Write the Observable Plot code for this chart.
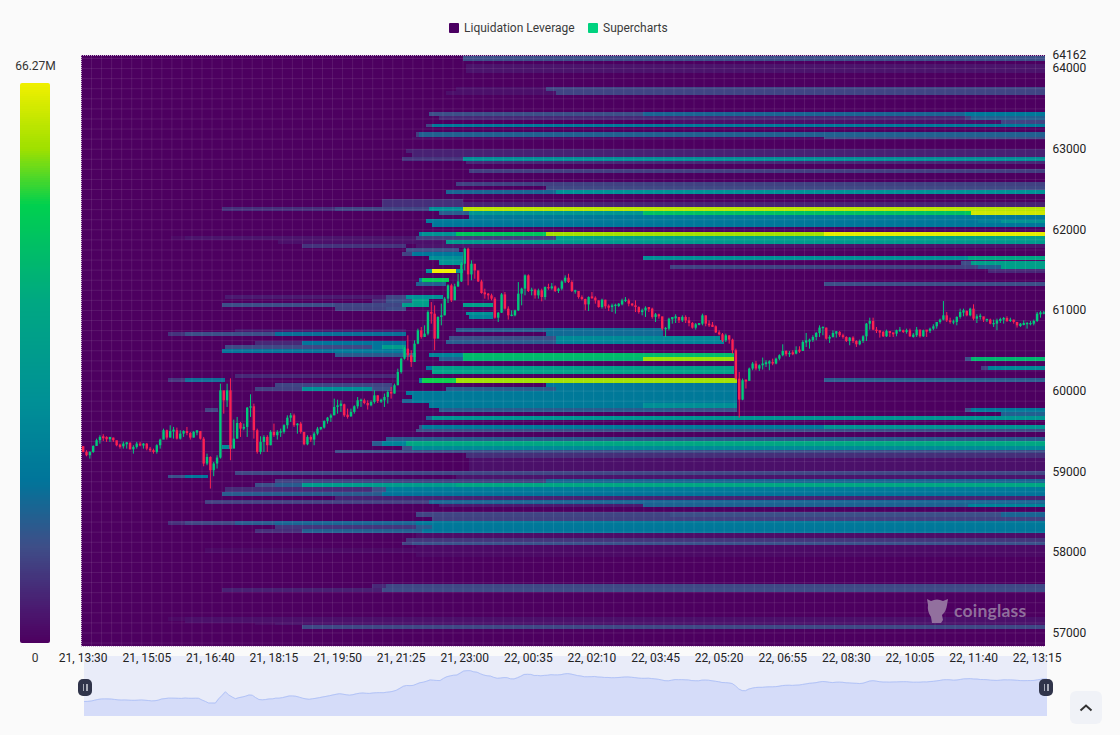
<!DOCTYPE html>
<html>
<head>
<meta charset="utf-8">
<script src="https://cdn.jsdelivr.net/npm/d3@7"></script>
<script src="https://cdn.jsdelivr.net/npm/@observablehq/plot@0.6"></script>
<style>
html,body{margin:0;padding:0;background:#fafafa;width:1120px;height:735px;overflow:hidden;font-family:Roboto,sans-serif;color:#333}
.abs{position:absolute}
svg{display:block}
.lg{position:absolute;top:21px;font-size:12px;line-height:14px;color:#3a3a3a;white-space:nowrap}
.sw{position:absolute;top:23px;width:10px;height:10px;border-radius:1px}
.handle{position:absolute;width:14px;height:17px;top:679px;background:#30344a;border-radius:5px}
.handle i{position:absolute;top:5px;width:1.5px;height:7px;background:#a9acb8}
</style>
</head>
<body>
<div class="sw" style="left:449px;background:#4b0062"></div>
<div class="lg" style="left:464px">Liquidation Leverage</div>
<div class="sw" style="left:588px;background:#00d27f"></div>
<div class="lg" style="left:603px">Supercharts</div>
<div class="abs" style="left:0;width:71px;top:59px;text-align:center;font-size:12px;color:#333">66.27M</div>
<div class="abs" style="left:0;width:70px;top:651px;text-align:center;font-size:12px;color:#333">0</div>
<div id="legendBar" class="abs" style="left:20px;top:83px;border-radius:2px;overflow:hidden"></div>
<div id="overview" class="abs" style="left:84px;top:656px"></div>
<div id="main" class="abs" style="left:0;top:0"></div>
<div class="handle" style="left:78px"><i style="left:4.5px"></i><i style="left:8px"></i></div>
<div class="handle" style="left:1039px"><i style="left:4.5px"></i><i style="left:8px"></i></div>
<div class="abs" style="left:1070px;top:691px;width:32px;height:33px;background:#f0f2f7;border-radius:6px">
<svg width="32" height="33"><path d="M10.5 19.5 L16 14.5 L21.5 19.5" fill="none" stroke="#333" stroke-width="2"/></svg></div>
<svg class="abs" style="left:925px;top:596px" width="25" height="28"><path d="M2 3 L6 5 Q12 2 18 5 L23 3 L22 9 Q21 16 17 19 L18 24 L16 27 L7 27 L6 21 Q2 15 3 9 Z" fill="#92709e"/></svg>
<div class="abs" style="left:954px;top:600px;font:700 17.5px Lato,sans-serif;color:#8f6f9c;letter-spacing:.2px">coinglass</div>

<script>
// ---- axis ticks -------------------------------------------------------
const xTickLabels = ["21, 13:30","21, 15:05","21, 16:40","21, 18:15","21, 19:50","21, 21:25","21, 23:00","22, 00:35","22, 02:10","22, 03:45","22, 05:20","22, 06:55","22, 08:30","22, 10:05","22, 11:40","22, 13:15"];
const xTickCandles = [0,19,38,57,76,95,114,133,152,171,190,209,228,247,266,285];
const yTicks = [64162,64000,63000,62000,61000,60000,59000,58000,57000];
const maxLiquidation = 66.27;

// ---- 5-minute candles (USD) -------------------------------------------
const firstOpen = 59310;
const candleClose = [
59240,59198,59239,59313,59384,59425,59417,59404,59417,59384,59322,59309,59342,59350,59272,59301,59342,59318,59342,59280,
59260,59239,59322,59392,59508,59417,59499,59508,59404,59466,59499,59474,59417,59487,59499,59404,59095,59177,59012,59095,
59169,60003,59879,60003,59280,59404,59598,59528,59549,59788,59805,59508,59239,59363,59425,59322,59487,59446,59487,59487,
59570,59664,59693,59570,59590,59487,59334,59425,59392,59466,59528,59541,59623,59664,59693,59797,59817,59830,59693,59681,
59735,59805,59879,59879,59846,59817,59859,59941,59871,59879,59921,59983,59963,60066,60231,60396,60520,60438,60355,60582,
60747,60665,60706,60974,60954,60644,60913,60933,61140,61305,61119,61292,61354,61573,61759,61441,61573,61491,61354,61210,
61202,61181,61140,60904,60966,61193,61016,60933,60933,60995,61202,61264,61429,61235,61251,61181,61243,61160,61284,61268,
61292,61235,61264,61354,61400,61346,61235,61235,61160,61136,61069,61160,61152,61119,61036,61127,61045,61036,61057,61057,
61069,61119,61119,61078,61057,61036,60974,60995,61028,61016,60913,60946,60921,60768,60768,60892,60904,60913,60871,60913,
60871,60838,60780,60822,60830,60933,60830,60809,60797,60722,60698,60623,60685,60632,60500,60148,59888,60128,60120,60273,
60335,60273,60314,60335,60343,60355,60335,60396,60438,60491,60450,60467,60458,60500,60491,60603,60615,60624,60665,60714,
60781,60781,60644,60665,60714,60727,60686,60665,60615,60657,60615,60574,60615,60673,60830,60863,60756,60739,60727,60673,
60739,60714,60706,60748,60748,60727,60748,60673,60686,60756,60673,60748,60739,60768,60797,60851,60880,60933,60871,60851,
60851,60913,60975,60987,60933,61016,60892,60921,60921,60880,60880,60830,60830,60871,60880,60900,60863,60880,60851,60809,
60822,60830,60830,60830,60863,60954,60962,60962];
const candleHigh = [
59310,59260,59247,59322,59404,59446,59458,59433,59425,59417,59375,59342,59367,59363,59363,59322,59363,59363,59350,59350,
59301,59280,59334,59404,59528,59516,59570,59549,59541,59508,59508,59549,59487,59499,59508,59487,59425,59218,59185,59115,
59198,60086,59962,60086,60152,59640,59673,59611,59590,59797,59954,59838,59528,59433,59446,59446,59508,59590,59508,59528,
59582,59693,59722,59714,59598,59611,59487,59446,59446,59487,59549,59549,59631,59673,59714,59900,59887,59879,59838,59776,
59776,59817,59920,59900,59900,59879,59879,60003,59941,59900,59963,60004,60045,60086,60272,60409,60541,60685,60500,60623,
60768,60789,60809,60995,61098,61057,60921,61078,61160,61317,61325,61325,61449,61594,61772,61772,61615,61553,61482,61375,
61264,61210,61202,61160,60974,61210,61222,61045,60995,61003,61346,61276,61441,61441,61276,61264,61264,61264,61292,61325,
61334,61305,61276,61367,61429,61449,61367,61251,61235,61181,61140,61169,61222,61169,61119,61140,61127,61069,61078,61078,
61086,61140,61160,61140,61086,61119,61045,61016,61045,61036,61028,60962,60954,60913,60789,60904,60913,60946,60913,60933,
60933,60913,60851,60838,60838,60954,60933,60871,60851,60809,60747,60714,60706,60685,60644,60520,60231,60149,60136,60285,
60355,60368,60326,60409,60376,60376,60396,60409,60450,60574,60500,60491,60500,60549,60549,60624,60714,60644,60686,60727,
60809,60797,60781,60686,60747,60739,60739,60706,60673,60665,60673,60624,60632,60686,60838,60904,60904,60789,60748,60739,
60756,60739,60714,60756,60789,60756,60768,60768,60714,60789,60756,60756,60748,60781,60822,60851,60892,61111,60975,60904,
60880,60921,61016,61016,60995,61028,61070,60946,60954,60913,60892,60892,60880,60892,60904,60913,60921,60904,60880,60851,
60838,60871,60851,60863,60880,60975,60987,60987];
const candleLow = [
59235,59185,59156,59227,59322,59342,59375,59363,59363,59363,59309,59280,59280,59280,59268,59218,59280,59309,59280,59260,
59239,59218,59218,59280,59404,59392,59417,59404,59392,59392,59425,59446,59392,59417,59446,59392,59061,59074,58785,58938,
59033,59156,59714,59797,59136,59301,59404,59425,59508,59425,59673,59404,59218,59210,59239,59239,59322,59425,59392,59425,
59466,59528,59611,59549,59466,59466,59322,59322,59363,59322,59446,59508,59528,59590,59611,59693,59714,59735,59673,59652,
59673,59714,59776,59797,59830,59764,59805,59838,59846,59846,59797,59839,59900,59963,60066,60210,60384,60376,60293,60355,
60574,60644,60665,60685,60830,60500,60727,60809,60933,61086,61098,61127,61284,61346,61491,61305,61367,61387,61346,61202,
61140,61127,61119,60892,60851,60962,61003,60880,60921,60921,60987,61057,61181,61222,61181,61140,61140,61107,61127,61251,
61251,61222,61210,61243,61334,61334,61222,61202,61140,61119,60995,60987,61140,61078,61028,61016,61016,60987,60974,60954,
61036,61057,61098,61045,61045,60974,60954,60933,60913,60974,60892,60851,60892,60747,60665,60747,60830,60838,60838,60851,
60838,60797,60768,60756,60809,60809,60797,60789,60789,60714,60685,60603,60603,60582,60458,60136,59665,59880,60025,60128,
60252,60252,60244,60260,60293,60252,60314,60326,60376,60425,60425,60417,60438,60450,60467,60491,60541,60520,60603,60624,
60665,60686,60632,60591,60657,60657,60665,60644,60603,60562,60591,60541,60562,60591,60615,60756,60748,60714,60657,60665,
60665,60665,60665,60673,60727,60714,60706,60665,60657,60665,60657,60665,60665,60714,60748,60768,60830,60871,60851,60830,
60822,60809,60892,60921,60921,60921,60871,60838,60880,60851,60851,60822,60789,60748,60838,60830,60851,60851,60830,60781,
60789,60809,60768,60809,60809,60851,60904,60946];

// ---- liquidation bands: [priceTop, priceBottom, candleFrom, candleTo, millions] ----
const bandsTop = [
[64155,64093,114,288,11.5],[64050,63944,115,288,3],
[63771,63721,112,139,2.5],[63771,63721,139,288,10],[63721,63672,109,142,2.5],[63721,63672,142,288,10],
[63461,63411,104,168,11.5],[63461,63411,168,264,16],[63461,63411,264,288,20.5],
[63411,63362,107,264,6],[63411,63362,264,266,9.5],[63411,63362,266,288,15],
[63362,63312,176,275,2.5],[63362,63312,275,288,10],
[63312,63263,103,105,10],[63312,63263,105,288,21],
[63201,63151,100,101,9],[63201,63151,101,288,15],[63151,63114,99,222,1.5],[63151,63114,222,288,11.5],
[62990,62941,97,288,5],[62941,62891,99,288,5],
[62891,62842,96,114,7.5],[62891,62842,114,288,28],[62842,62804,115,288,6],[62742,62693,116,288,9],
[62581,62532,112,288,9.5],[62532,62482,139,288,10.5],
[62482,62433,109,142,16],[62482,62433,142,288,28.5]
];
const bandsUpperWalls = [
[62371,62272,90,114,7],[62345,62272,114,288,5],
[62272,62222,42,76,7],[62272,62222,76,104,10],[62272,62222,104,114,28.5],[62272,62222,114,288,61],
[62222,62172,107,116,14],[62222,62172,116,168,31],[62222,62172,168,264,47.5],[62222,62172,264,266,50],[62222,62172,266,288,63],
[62172,62123,116,288,20.5],[62123,62073,103,176,21],[62123,62073,176,288,20],
[62110,62060,268,275,24],[62110,62060,275,288,31],[62073,62024,105,288,20],
[61962,61912,101,102,24],[61962,61912,102,112,30],[61962,61912,112,139,49],[61962,61912,139,222,59],[61962,61912,222,288,65],
[61912,61863,27,31,1.5],[61912,61863,31,58,3],[61912,61863,58,100,3],[61912,61863,100,142,9],[61912,61863,142,288,36],
[61863,61813,59,109,2.5],[61863,61813,109,288,34],
[61813,61764,66,97,7.5],[61813,61764,100,288,3],
[61764,61714,97,113,11.5],[61714,61665,96,99,9.5],[61714,61665,99,114,20],
[61665,61615,104,114,28],[61615,61553,107,114,30],
[61665,61615,168,265,28],[61665,61615,265,288,40],
[61603,61553,263,266,11],[61603,61553,266,288,36],
[61553,61504,176,268,9.5],[61553,61504,268,275,15],[61553,61504,275,288,36],
[61504,61454,103,105,28],[61504,61454,105,112,66.27],[61504,61454,112,114,28],[61504,61454,271,288,6],
[61392,61343,101,102,24],[61392,61343,102,110,50],
[61343,61293,100,109,15],[61343,61293,222,288,11.5]
];
const bandsMiddle = [
[61181,61132,43,91,4],[61181,61132,91,97,10],[61181,61132,97,108,28.5],
[61132,61082,87,91,6.5],[61132,61082,91,99,11.5],[61132,61082,99,104,36],
[61082,61033,42,76,11.5],[61082,61033,76,96,10],[61082,61033,96,104,35],[61082,61033,114,123,36],
[61033,60983,76,91,9.5],[61033,60983,91,97,11],
[60971,60934,115,123,29],[60934,60884,116,123,24],
[60760,60723,46,97,3.5],[60773,60723,112,139,14],[60773,60723,139,174,17],
[60723,60673,26,31,7.5],[60723,60673,31,58,11.5],[60723,60673,58,97,18],[60723,60673,139,174,17],
[60673,60624,110,142,11.5],[60673,60624,142,191,26.5],
[60624,60574,109,142,14],[60624,60574,142,192,24],
[60611,60562,52,66,6],[60611,60562,66,97,19],
[60562,60512,43,87,10.5],[60562,60512,87,90,19],[60562,60512,90,97,35],
[60512,60463,42,76,18.5],[60512,60463,76,97,21],
[60463,60413,76,100,14],[60463,60413,104,114,24],[60463,60413,114,195,46],
[60413,60364,107,114,15],[60413,60364,114,168,44.5],[60413,60364,168,195,58],
[60413,60364,264,266,11.5],[60413,60364,266,288,44.5],
[60302,60252,103,105,20],[60302,60252,105,195,36],
[60302,60252,269,271,9.5],[60302,60252,271,275,24],[60302,60252,275,288,26],
[60252,60203,105,195,37],[60203,60153,46,94,6],
[60153,60103,26,31,8],[60153,60103,31,43,17.5],[60153,60103,222,288,14],
[60153,60091,101,102,24],[60153,60091,102,112,52],[60153,60091,112,196,58.5],
[60091,60041,58,93,10],[60091,60041,139,196,20],
[60041,59992,52,66,9.5],[60041,59992,66,87,28.5],[60041,59992,87,93,11.5],
[60041,59992,109,142,14],[60041,59992,142,196,20.5],
[59992,59942,97,196,20.5],[59942,59893,99,196,20.5],
[59893,59843,96,99,16],[59893,59843,99,196,21],
[59843,59781,104,168,21],[59843,59781,168,196,28],
[59781,59731,107,176,14],[59781,59731,176,196,12],[59781,59731,37,41,9.5],
[59781,59731,264,266,11.5],[59781,59731,266,288,20.5],[59731,59681,275,288,15]
];
const bandsLower = [
[59681,59632,103,105,16],[59681,59632,105,288,31],
[59570,59521,101,102,11.5],[59570,59521,102,222,21],[59570,59521,222,288,31],
[59521,59483,100,288,11.5],[59421,59371,91,288,14],
[59371,59309,87,90,14],[59371,59309,90,97,24],[59371,59309,97,288,40],
[59321,59271,42,45,26],
[59309,59260,96,99,11.5],[59309,59260,99,288,26],
[59260,59222,76,288,11],[59222,59160,115,288,7],[59160,58999,116,288,2.5],
[58999,58949,46,288,10],
[58949,58912,26,31,12],[58949,58912,31,38,20],[58949,58900,112,288,3],
[58900,58850,58,139,9.5],[58900,58850,139,288,16],
[58850,58800,52,58,11.5],[58850,58800,58,66,14],[58850,58800,66,112,34.5],[58850,58800,112,288,40],
[58800,58739,43,87,6.5],[58800,58739,87,91,11.5],[58800,58739,91,288,21],
[58739,58689,42,90,14],[58739,58689,90,288,19],[58689,58640,76,288,5],
[58640,58590,37,104,9],[58640,58590,104,288,16],
[58590,58553,107,168,4],[58590,58553,168,265,15.5],[58590,58553,265,288,24]
];
const bandsBottom = [
[58491,58429,100,176,10],[58491,58429,176,275,11.5],[58491,58429,275,288,16],
[58429,58380,105,288,9.5],
[58380,58330,26,31,7],[58380,58330,31,46,10],[58380,58330,46,58,14],[58380,58330,58,100,16],[58380,58330,100,288,20.5],
[58330,58280,58,100,8],[58330,58280,100,105,14],[58330,58280,105,288,20],
[58280,58231,52,66,7],[58280,58231,66,102,15],[58280,58231,102,288,19.5],
[58231,58169,100,288,2],[58169,58119,97,288,8],
[58119,58082,96,99,9.5],[58119,58082,99,288,12],
[58082,57934,100,288,1.5],[58045,57983,37,100,1.5],
[57599,57550,87,91,6],[57599,57550,91,288,10.5],
[57550,57500,42,90,5],[57550,57500,90,288,11],
[57190,57116,31,288,2.5],[57190,57141,26,31,1.5],
[57116,57091,52,58,1.5],[57116,57091,58,288,3],
[57091,57042,66,288,10.5]
];

// ---- colour ramp (value in millions -> colour) --------------------------
const rampValues = [0,4,11.3,19.2,28.5,40.4,51.7,58.3,66.27];
const rampColors = ["#4d0060","#4a1a70","#3e4e88","#00759a","#009096","#00a882","#00d04f","#9ee000","#f2f000"];
const colorScale = {type:"linear",domain:rampValues,range:rampColors};
const colorLegendSteps = d3.range(0,66.27,0.25);

const candles = candleClose.map((c,i)=>{
  const o = i===0 ? firstOpen : candleClose[i-1];
  return {i:i+0.5,o,c,h:candleHigh[i],l:candleLow[i],up:c>=o,top:Math.max(o,c)+(Math.abs(o-c)<16?8:0),bot:Math.min(o,c)-(Math.abs(o-c)<16?8:0)};
});
const bands = [...bandsTop,...bandsUpperWalls,...bandsMiddle,...bandsLower,...bandsBottom];
const gridX = d3.range(0,288,3);
const gridY = d3.range(56875,64162,125);
const UP="#00c97b", DOWN="#fb2052";
const candleMarks = (flag,color)=>[
  Plot.ruleX(candles.filter(d=>d.up===flag),{x:"i",y1:"l",y2:"h",stroke:color,strokeWidth:1}),
  Plot.ruleX(candles.filter(d=>d.up===flag),{x:"i",y1:"bot",y2:"top",stroke:color,strokeWidth:2.4})
];

const main = Plot.plot({
  width:1120,height:735,marginLeft:81,marginRight:75,marginTop:55,marginBottom:89,
  style:{background:"transparent",fontFamily:"Roboto,sans-serif",fontSize:"12px",color:"#222",overflow:"visible"},
  x:{domain:[0,288],label:null},
  y:{domain:[56832,64162],label:null},
  color:colorScale,
  marks:[
    Plot.rect([0],{x1:()=>0,x2:()=>288,y1:()=>56832,y2:()=>64162,fill:()=>0}),
    Plot.rect(bands,{y1:d=>d[0],y2:d=>d[1],x1:d=>d[2],x2:d=>d[3],fill:d=>d[4],shapeRendering:"crispEdges"}),
    Plot.ruleX(gridX,{stroke:"#fff",strokeOpacity:0.085,strokeWidth:1}),
    Plot.ruleY(gridY,{stroke:"#fff",strokeOpacity:0.085,strokeWidth:1}),
    Plot.ruleX([0],{stroke:"#c9aed2",strokeDasharray:"1 1"}),
    Plot.ruleY([64162,56832],{stroke:"#c9aed2",strokeDasharray:"1 1"}),
    ...candleMarks(true,UP),
    ...candleMarks(false,DOWN),
    Plot.axisX({ticks:xTickCandles.map(d=>d+0.5),tickSize:0,tickPadding:7,tickFormat:d=>xTickLabels[xTickCandles.indexOf(d-0.5)],label:null,fill:"#222"}),
    Plot.axisY({anchor:"right",ticks:yTicks,tickSize:0,tickPadding:7,tickFormat:d=>String(d),label:null,fill:"#222"})
  ]
});
document.getElementById("main").appendChild(main);

const bar = Plot.plot({
  width:30,height:560,margin:0,
  style:{background:"transparent"},
  x:{axis:null,domain:[0,1]},
  y:{axis:null,domain:[0,66.27]},
  color:colorScale,
  marks:[Plot.rect(colorLegendSteps,{x1:()=>0,x2:()=>1,y1:d=>d,y2:d=>d+0.3,fill:d=>d,shapeRendering:"crispEdges"})]
});
document.getElementById("legendBar").appendChild(bar);

// overview strip: the close series lightly averaged, as the brush draws it
const overviewClose = candleClose.map((d,i,a)=>d3.mean(a.slice(Math.max(0,i-1),i+2)));
const overview = Plot.plot({
  width:963,height:60,margin:0,
  style:{background:"#e9ecf9"},
  x:{axis:null,domain:[0,287]},
  y:{axis:null,domain:[58060,62685]},
  marks:[
    Plot.areaY(overviewClose,{x:(d,i)=>i,y1:()=>58060,y2:d=>d,fill:"#d5dcf9"}),
    Plot.lineY(overviewClose,{x:(d,i)=>i,y:d=>d,stroke:"#b3c4f7",strokeWidth:1})
  ]
});
document.getElementById("overview").appendChild(overview);
</script>
</body>
</html>
